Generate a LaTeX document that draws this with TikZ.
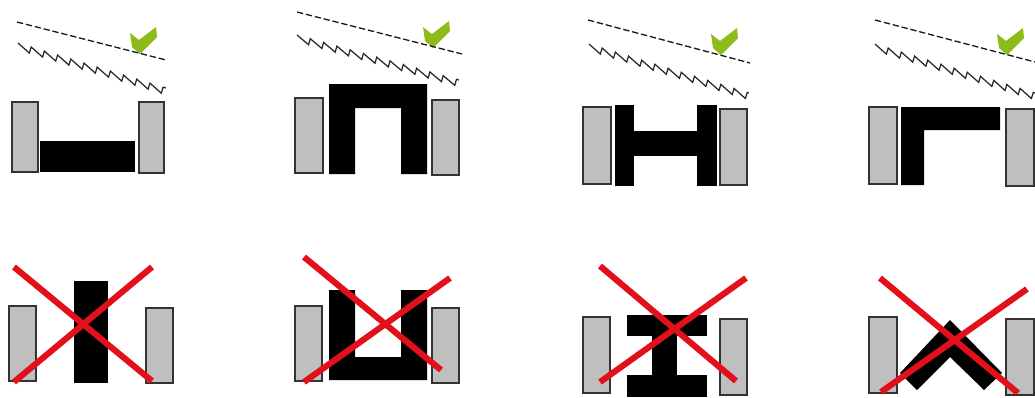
\documentclass[tikz,border=0pt]{standalone}
\usepackage{xcolor}
\usepackage{tikz}
\usetikzlibrary{decorations.pathmorphing}
\definecolor{verdeMarca}{HTML}{8DBB1A}
\definecolor{vermelhoCorte}{HTML}{E2101A}
\tikzset{
    parede/.style={
        draw=black!80,
        fill=black!25,
        line width=0.7pt
    },
    perfil/.style={fill=black},
    tracejada/.style={
        draw=black!90,
        line width=0.75pt,
        dash pattern=on 3.6pt off 1.6pt
    },
    serra/.style={
        draw=black!85,
        line width=0.7pt,
        decorate,
        decoration={saw, segment length=7.85pt, amplitude=-3.6pt}
    },
    corte/.style={draw=vermelhoCorte, line width=3.5pt},
    marca/.style={fill=verdeMarca}
}

\begin{document}
\begin{tikzpicture}[x=0.02cm, y=-0.02cm]
    \useasboundingbox (0,0) rectangle (1035,397);

    % marcas verdes
    \foreach \dx/\dy in {0/0, 293/-6, 581/1, 867/1} {
        \fill[marca, shift={(\dx,\dy)}]
            (130,33) -- (139,40) -- (156,27) -- (157,37) -- (140,54) -- (132,47) -- cycle;
    }

    % linhas da linha superior
    \draw[tracejada] (17,22) -- (166,60);
    \draw[tracejada] (297,12) -- (462,54);
    \draw[tracejada] (588,20) -- (750,63);
    \draw[tracejada] (875,20) -- (1035,62);
    \draw[serra] (18,43) -- (166,88);
    \draw[serra] (297,35) -- (459,80);
    \draw[serra] (589,44) -- (749,93);
    \draw[serra] (875,44) -- (1035,93);

    % linha superior
    \draw[parede] (12,102) rectangle (38,172);
    \draw[parede] (139,102) rectangle (164,173);
    \fill[perfil] (40,141) rectangle (135,172);

    \draw[parede] (295,98) rectangle (323,173);
    \draw[parede] (432,100) rectangle (459,175);
    \fill[perfil] (329,174) |- (427,84) |- (401,174) |- (355,108) |- cycle;

    \draw[parede] (583,107) rectangle (611,184);
    \draw[parede] (720,109) rectangle (747,185);
    \fill[perfil] (615,105) rectangle (634,186);
    \fill[perfil] (697,105) rectangle (717,186);
    \fill[perfil] (634,131) rectangle (697,156);

    \draw[parede] (869,107) rectangle (897,184);
    \draw[parede] (1006,109) rectangle (1034,186);
    \fill[perfil] (901,185) |- (1000,107) |- (924,130) |- cycle;

    % linha inferior
    \draw[parede] (9,306) rectangle (36,381);
    \draw[parede] (146,308) rectangle (173,383);
    \fill[perfil] (74,281) rectangle (108,383);

    \draw[parede] (295,306) rectangle (322,381);
    \draw[parede] (432,308) rectangle (459,383);
    \fill[perfil] (329,290) |- (427,380) |- (401,290) |- (355,357) |- cycle;

    \draw[parede] (583,317) rectangle (610,393);
    \draw[parede] (720,319) rectangle (747,395);
    \fill[perfil] (627,315) rectangle (707,336);
    \fill[perfil] (652,336) rectangle (677,375);
    \fill[perfil] (627,375) rectangle (707,397);

    \draw[parede] (869,317) rectangle (897,393);
    \draw[parede] (1006,319) rectangle (1034,395);
    \fill[perfil] (950,320) -- (1002,373) -- (984,390) -- (950,357) -- (917,390) -- (900,373) -- cycle;

    % cortes vermelhos
    \draw[corte] (14,267) -- (152,381);
    \draw[corte] (152,267) -- (14,382);
    \draw[corte] (304,257) -- (441,370);
    \draw[corte] (450,278) -- (304,382);
    \draw[corte] (600,266) -- (736,381);
    \draw[corte] (746,278) -- (600,382);
    \draw[corte] (880,278) -- (1018,393);
    \draw[corte] (1027,289) -- (881,392);
\end{tikzpicture}
\end{document}
